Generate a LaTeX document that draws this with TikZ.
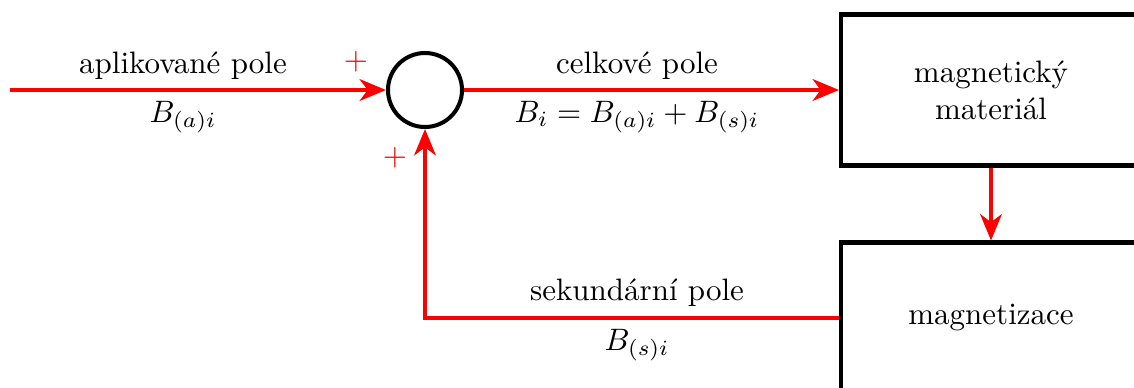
\documentclass[tikz,border=0pt]{standalone}
\usetikzlibrary{arrows.meta}
\begin{document}
\begin{tikzpicture}[x=0.3226pt,y=-0.3226pt,
  sig/.style={red,line width=1.3pt,-{Stealth[length=8.5pt,width=7pt,inset=2.6pt]}},
  blk/.style={draw=black,line width=1.3pt,minimum width=300*0.3226pt,minimum height=151*0.3226pt,inner sep=0pt,align=center},
  sumc/.style={circle,draw=black,line width=1.3pt,minimum size=74*0.3226pt,inner sep=0pt},
  lbl/.style={inner sep=0pt},
  pm/.style={red,inner sep=0pt}]
\useasboundingbox (0,0) rectangle (1134,387);
\clip (0,0) rectangle (1134,387);
\node[sumc] (sum) at (425,90) {};
\node[blk] (mat) at (991,90) {magnetick\'y\\materi\'al};
\node[blk] (mag) at (991,318) {magnetizace};
\coordinate (in) at (10,90);
\draw[sig] (in) -- (sum.west);
\draw[sig] (sum.east) -- (mat.west);
\draw[sig] (mat.south) -- (mag.north);
\draw[sig] (mag.west) -| (sum.south);
\node[lbl] (t1) at (183,66) {aplikovan\'e pole};
\node[lbl] (m1) at (183,117) {$B_{(a)i}$};
\node[lbl] (t2) at (637,66) {celkov\'e pole};
\node[lbl] (m2) at (637,117) {$B_i = B_{(a)i} + B_{(s)i}$};
\node[lbl] (t3) at (637,293) {sekund\'arn\'i pole};
\node[lbl] (m3) at (637,345) {$B_{(s)i}$};
\node[pm] (p1) at (356,62) {$+$};
\node[pm] (p2) at (395,158) {$+$};
\end{tikzpicture}
\end{document}
